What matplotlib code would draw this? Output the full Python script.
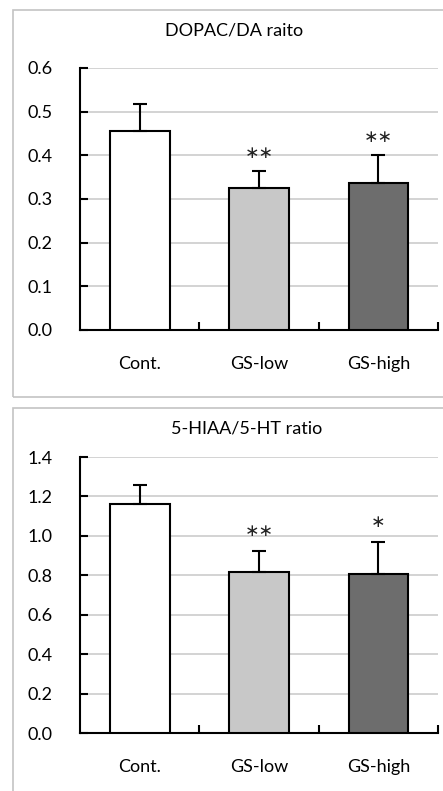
import matplotlib
matplotlib.use('Agg')
import matplotlib.pyplot as plt
from matplotlib.patches import Rectangle
import numpy as np

groups = ["Cont.", "GS-low", "GS-high"]
bar_colors = ["#ffffff", "#c8c8c8", "#6d6d6d"]

# top panel
dopac_mean = [0.455, 0.326, 0.337]
dopac_sem = [0.063, 0.038, 0.064]
dopac_sig = ["", "**", "**"]

# bottom panel
hiaa_mean = [1.164, 0.818, 0.805]
hiaa_sem = [0.096, 0.105, 0.165]
hiaa_sig = ["", "**", "*"]

W, H = 443, 791
fig = plt.figure(figsize=(W / 100, H / 100), dpi=100)
plt.rcParams['font.family'] = ['Lato', 'DejaVu Sans']


def px_axes(left, top, right, bottom):
    return fig.add_axes([left / W, 1 - bottom / H, (right - left) / W, (bottom - top) / H])


def panel(box, ax_px, title, title_xy, means, sems, sig, ymax, step, star_gap):
    # grey frame around each panel
    fig.patches.append(Rectangle((box[0] / W, 1 - box[3] / H), (box[2] - box[0]) / W,
                                 (box[3] - box[1]) / H, transform=fig.transFigure,
                                 fill=False, edgecolor="#c4c4c4", lw=1.2))
    fig.text(title_xy[0] / W, 1 - title_xy[1] / H, title, ha="center", va="center", fontsize=13)

    ax = px_axes(*ax_px)
    x = np.arange(len(groups)) + 0.5
    ax.bar(x, means, width=0.5, color=bar_colors, edgecolor="black", linewidth=1.5, zorder=3)
    ax.errorbar(x, means, yerr=[np.zeros(len(sems)), sems], fmt="none", ecolor="black",
                elinewidth=1.5, capsize=5, capthick=1.5, zorder=4)
    for xi, m, s, t in zip(x, means, sems, sig):
        if t:
            stars = "".join("\u2217" for _ in t)
            ax.text(xi, m + s + star_gap, stars, ha="center", va="center", fontsize=12.5,
                    family="DejaVu Sans", color="#222222")

    ax.set_xlim(0, 3)
    ax.set_ylim(0, ymax)
    yt = np.arange(0, ymax + step / 2, step)
    ax.set_yticks(yt)
    ax.set_yticklabels(["%.1f" % v for v in yt], fontsize=13)
    ax.yaxis.grid(True, color="#cccccc", lw=1.2, zorder=0)
    ax.set_xticks(x)
    ax.set_xticklabels(groups, fontsize=13)
    ax.set_xticks([1, 2, 3], minor=True)
    ax.tick_params(axis="x", which="major", length=0, pad=19)
    ax.tick_params(axis="x", which="minor", direction="in", length=6, width=1.5)
    ax.tick_params(axis="y", direction="in", length=6, width=1.5, pad=20)
    for s in ["top", "right"]:
        ax.spines[s].set_visible(False)
    for s in ["left", "bottom"]:
        ax.spines[s].set_linewidth(1.5)
    return ax


panel((13, 10, 460, 397), (80, 68, 438, 330), "DOPAC/DA raito", (234, 30),
      dopac_mean, dopac_sem, dopac_sig, 0.6, 0.1, 0.042)
panel((13, 408, 460, 800), (80, 457, 438, 733), "5-HIAA/5-HT ratio", (247, 428),
      hiaa_mean, hiaa_sem, hiaa_sig, 1.4, 0.2, 0.1)

fig.savefig("out.png", dpi=100)
